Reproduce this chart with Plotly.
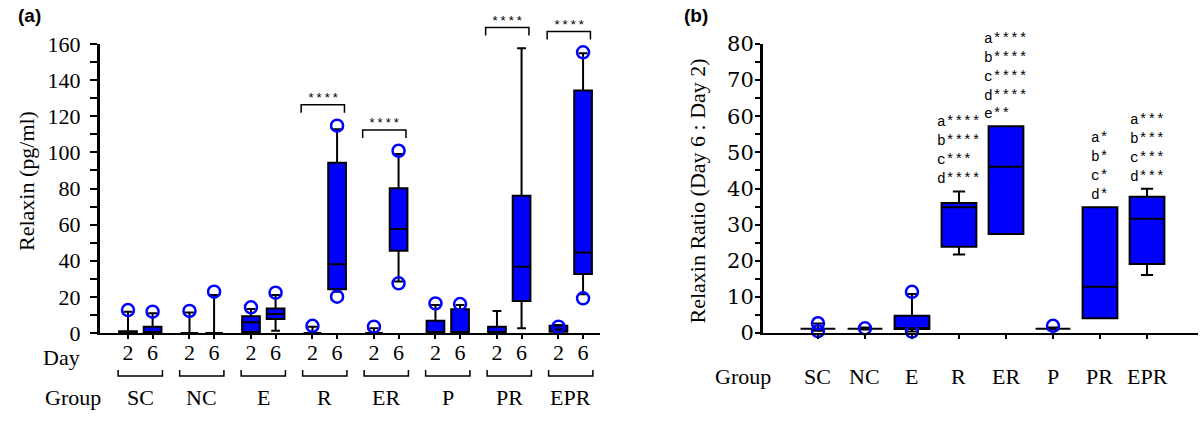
import plotly.graph_objects as go

# ---------------- data ----------------
groups = ["SC", "NC", "E", "R", "ER", "P", "PR", "EPR"]
days = ["2", "6"]

# Panel (a): Relaxin (pg/ml); boxes ordered group by group, day 2 then day 6
a_q1 =     [0,    0,    0,    0,    0.5,  7.8,  0,   24.2,  0,   45.6, 0,    0,    0,    17.7,  0.7, 32.7]
a_median = [0.5,  0,    0,    0,    6.0,  10.5, 0,   38.0,  0,   57.6, 0,    0,    0,    36.7,  2.0, 44.5]
a_q3 =     [1.0,  3.5,  0,    0,    9.3,  13.5, 0,   94.3,  0,   80.1, 6.8,  13.1, 3.5,  76.0,  4.0, 134.2]
a_low =    [0,    0,    0,    0,    0,    1.2,  0,   22.9,  0,   28.5, 0,    0,    0,    2.6,   0,   21.4]
a_high =   [11.8, 10.9, 11.3, 21.0, 13.3, 21.0, 3.5, 112.8, 2.6, 99.1, 15.5, 15.5, 12.2, 157.6, 4.4, 154.9]
a_outliers = [[12.7], [11.8], [12.2], [22.9], [14.2], [22.3], [4.0], [114.8, 20.1],
              [3.5], [100.9, 27.5], [16.4], [16.0], [], [], [3.5], [155.4, 19.2]]
a_sig_groups = ["R", "ER", "PR", "EPR"]
a_sig_labels = ["****", "****", "****", "****"]

# Panel (b): Relaxin ratio (Day 6 : Day 2)
b_q1 =     [1.2, 1.2, 1.1,  23.9, 27.4, 1.2, 4.05, 19.1]
b_median = [1.2, 1.2, 1.1,  34.8, 46.0, 1.2, 12.8, 31.6]
b_q3 =     [1.2, 1.2, 4.8,  36.0, 57.2, 1.2, 34.8, 37.7]
b_low =    [0.6, 1.0, 0.4,  21.7, 27.4, 1.0, 4.05, 16.05]
b_high =   [2.6, 1.5, 10.8, 39.2, 57.2, 1.5, 34.8, 39.9]
b_outliers = [[2.7, 0.5], [1.3], [11.4, 0.4], [], [], [2.0], [], []]
b_sig = [[], [], [],
         ["a****", "b****", "c***", "d****"],
         ["a****", "b****", "c****", "d****", "e**"],
         [],
         ["a*", "b*", "c*", "d*"],
         ["a***", "b***", "c***", "d***"]]

# ---------------- layout constants ----------------
BLUE = "#0000FF"
SERIF = "Liberation Serif"
MONO = "Liberation Mono"
GROUP_STEP = 2.5
A_YMAX = 160
B_YMAX = 80
PLOT_H = 289  # px height of plot area

a_x = [gi * GROUP_STEP + di for gi in range(len(groups)) for di in range(len(days))]
a_ticktext = [d for _ in groups for d in days]
pair_center = {g: gi * GROUP_STEP + 0.5 for gi, g in enumerate(groups)}
b_x = list(range(len(groups)))

fig = go.Figure()

# Panel (a) boxes
fig.add_trace(go.Box(
    x=a_x, q1=a_q1, median=a_median, q3=a_q3, lowerfence=a_low, upperfence=a_high,
    width=0.72, whiskerwidth=0.5, fillcolor=BLUE, line=dict(color="black", width=2),
    boxpoints=False, xaxis="x", yaxis="y", hoverinfo="skip", showlegend=False))
ox, oy = [], []
for xv, outs in zip(a_x, a_outliers):
    for v in outs:
        ox.append(xv); oy.append(v)
fig.add_trace(go.Scatter(
    x=ox, y=oy, mode="markers", cliponaxis=False, xaxis="x", yaxis="y",
    marker=dict(symbol="circle-open", size=12, color=BLUE, line=dict(width=2.5, color=BLUE)),
    showlegend=False, hoverinfo="skip"))

# Panel (b) boxes
fig.add_trace(go.Box(
    x=b_x, q1=b_q1, median=b_median, q3=b_q3, lowerfence=b_low, upperfence=b_high,
    width=0.74, whiskerwidth=0.35, fillcolor=BLUE, line=dict(color="black", width=2),
    boxpoints=False, xaxis="x2", yaxis="y2", hoverinfo="skip", showlegend=False))
bx, by = [], []
for xv, outs in zip(b_x, b_outliers):
    for v in outs:
        bx.append(xv); by.append(v)
fig.add_trace(go.Scatter(
    x=bx, y=by, mode="markers", cliponaxis=False, xaxis="x2", yaxis="y2",
    marker=dict(symbol="circle-open", size=12, color=BLUE, line=dict(width=2.5, color=BLUE)),
    showlegend=False, hoverinfo="skip"))

shapes = []
annotations = []

# group brackets under panel (a) and group names
for g in groups:
    c = pair_center[g]
    shapes.append(dict(type="path", xref="x", yref="paper",
                       path=f"M {c-0.9},-0.128 L {c-0.9},-0.149 L {c+0.9},-0.149 L {c+0.9},-0.128",
                       line=dict(color="black", width=1.5)))
    annotations.append(dict(x=c, y=-0.2215, xref="x", yref="paper", text=g, showarrow=False,
                            xanchor="center", yanchor="middle", font=dict(family=SERIF, size=22, color="black")))

# significance brackets above panel (a)
for g, lab in zip(a_sig_groups, a_sig_labels):
    gi = groups.index(g)
    top = max([a_high[2 * gi], a_high[2 * gi + 1]] + a_outliers[2 * gi] + a_outliers[2 * gi + 1])
    yb = (top + 11.5) / A_YMAX
    leg = 8 / PLOT_H
    c = pair_center[g] - 0.08
    shapes.append(dict(type="path", xref="x", yref="paper",
                       path=f"M {c-0.88},{yb-leg} L {c-0.88},{yb} L {c+0.88},{yb} L {c+0.88},{yb-leg}",
                       line=dict(color="black", width=1.5)))
    annotations.append(dict(x=c, y=yb, xref="x", yref="paper", text=lab, showarrow=False,
                            xanchor="center", yanchor="bottom", yshift=-3,
                            font=dict(family=MONO, size=13.5, color="black")))

# significance labels panel (b)
for i, lines in enumerate(b_sig):
    if not lines:
        continue
    annotations.append(dict(x=b_x[i], y=max(b_high[i], b_q3[i]), xref="x2", yref="y2",
                            text="<br>".join(lines), showarrow=False, align="left",
                            xanchor="center", yanchor="bottom", yshift=2,
                            font=dict(family=MONO, size=14.5, color="black")))

# category labels panel (b)
for i, g in enumerate(groups):
    annotations.append(dict(x=b_x[i], y=-0.151, xref="x2", yref="paper", text=g, showarrow=False,
                            xanchor="center", yanchor="middle", font=dict(family=SERIF, size=22, color="black")))

# row words
annotations += [
    dict(x=-0.0535, y=-0.084, xref="paper", yref="paper", text="Day", showarrow=False,
         xanchor="left", yanchor="middle", font=dict(family=SERIF, size=22, color="black")),
    dict(x=-0.0519, y=-0.2215, xref="paper", yref="paper", text="Group", showarrow=False,
         xanchor="left", yanchor="middle", font=dict(family=SERIF, size=22, color="black")),
    dict(x=0.5583, y=-0.151, xref="paper", yref="paper", text="Group", showarrow=False,
         xanchor="left", yanchor="middle", font=dict(family=SERIF, size=22, color="black")),
    # axis titles
    dict(x=-0.0665, y=0.526, xref="paper", yref="paper", text="Relaxin (pg/ml)", showarrow=False,
         textangle=-90, xanchor="center", yanchor="middle", font=dict(family=SERIF, size=22, color="black")),
    dict(x=0.5446, y=0.493, xref="paper", yref="paper", text="Relaxin Ratio (Day 6 : Day 2)", showarrow=False,
         textangle=-90, xanchor="center", yanchor="middle", font=dict(family=SERIF, size=22, color="black")),
    # panel letters
    dict(x=-0.0765, y=1.0969, xref="paper", yref="paper", text="<b>(a)</b>", showarrow=False,
         xanchor="left", yanchor="middle", font=dict(family="Liberation Sans", size=19, color="black")),
    dict(x=0.530, y=1.0969, xref="paper", yref="paper", text="<b>(b)</b>", showarrow=False,
         xanchor="left", yanchor="middle", font=dict(family="Liberation Sans", size=19, color="black")),
]

axis_common = dict(showgrid=False, zeroline=False, showline=True, linecolor="black",
                   ticks="outside", tickcolor="black")

fig.update_layout(
    width=1200, height=421,
    margin=dict(l=100, r=2, t=44, b=88),
    paper_bgcolor="white", plot_bgcolor="white",
    showlegend=False,
    xaxis=dict(domain=[0, 0.4554], range=[-1.138, 19.19], anchor="y",
               tickmode="array", tickvals=a_x, ticktext=a_ticktext,
               ticklen=4, tickwidth=2, linewidth=2, ticklabelstandoff=-5,
               tickfont=dict(family=SERIF, size=22, color="black"), **axis_common),
    yaxis=dict(domain=[0, 1], range=[0, A_YMAX], anchor="x", tick0=0, dtick=20,
               ticklen=7, tickwidth=2, linewidth=3, ticklabelstandoff=5,
               minor=dict(dtick=10, ticks="outside", ticklen=7, tickwidth=2, tickcolor="black"),
               tickfont=dict(family=SERIF, size=22, color="black"), **axis_common),
    xaxis2=dict(domain=[0.6038, 1.0], range=[-1.17, 8.085], anchor="y2",
                tickmode="array", tickvals=b_x, showticklabels=False,
                ticklen=4, tickwidth=2, linewidth=2, **axis_common),
    yaxis2=dict(domain=[0, 1], range=[0, B_YMAX], anchor="x2", tick0=0, dtick=10,
                ticklen=5, tickwidth=2, linewidth=3, ticklabelstandoff=-3,
                minor=dict(dtick=5, ticks="outside", ticklen=5, tickwidth=2, tickcolor="black"),
                tickfont=dict(family="DejaVu Serif", size=21, color="black"), **axis_common),
    shapes=shapes,
    annotations=annotations,
)

fig.write_html("out.html", config={"displayModeBar": False},
               post_script="document.body.style.margin='0';")
